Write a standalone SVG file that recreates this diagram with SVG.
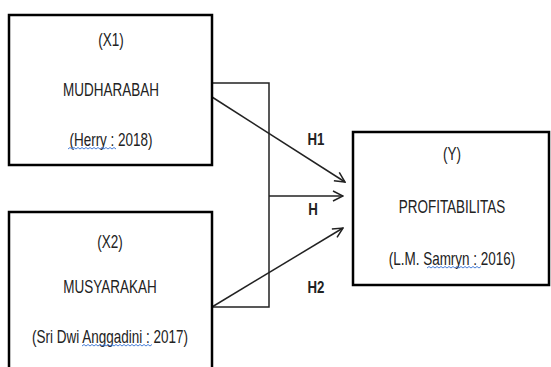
<svg xmlns="http://www.w3.org/2000/svg" width="551" height="367" viewBox="0 0 551 367">
<style>
.box{fill:#fff;stroke:#000;stroke-width:2.5}
.ln{fill:none;stroke:#222;stroke-width:1.5}
.t{font-family:"Liberation Sans",Arial,sans-serif;font-size:18px;fill:#222;text-anchor:middle}
.lb{font-family:"Liberation Sans",Arial,sans-serif;font-size:17px;font-weight:bold;fill:#222;text-anchor:middle}
.sq{fill:none;stroke:#4a7fd8;stroke-width:1}
</style>
<defs>
<marker id="arr" markerWidth="12" markerHeight="12" refX="11" refY="6" orient="auto" markerUnits="userSpaceOnUse">
<path d="M1,1 L11,6 L1,11" fill="none" stroke="#222" stroke-width="1.5"/>
</marker>
</defs>
<g id="connectors">
<polyline class="ln" points="212,83 269,83 269,307 212,307"/>
<line class="ln" x1="212" y1="97" x2="345" y2="182" marker-end="url(#arr)"/>
<line class="ln" x1="269" y1="196" x2="343" y2="196" marker-end="url(#arr)"/>
<line class="ln" x1="212" y1="307" x2="343" y2="228" marker-end="url(#arr)"/>
<text class="lb" transform="translate(316,145) scale(0.78,1)">H1</text>
<text class="lb" transform="translate(313,215) scale(0.78,1)">H</text>
<text class="lb" transform="translate(316,293) scale(0.78,1)">H2</text>
</g>
<g id="x1">
<rect class="box" x="9" y="15" width="203" height="150"/>
<text class="t" transform="translate(111,46) scale(0.75,1)">(X1)</text>
<text class="t" transform="translate(111,96) scale(0.75,1)">MUDHARABAH</text>
<text class="t" transform="translate(111,146) scale(0.75,1)">(Herry : 2018)</text>
<path class="sq" d="M68,149 l2,-1.5 l2,1.5 l2,-1.5 l2,1.5 l2,-1.5 l2,1.5 l2,-1.5 l2,1.5 l2,-1.5 l2,1.5 l2,-1.5 l2,1.5 l2,-1.5 l2,1.5 l2,-1.5 l2,1.5 l2,-1.5 l2,1.5 l2,-1.5 l2,1.5 l2,-1.5 l2,1.5 l2,-1.5 l2,1.5"/>
</g>
<g id="x2">
<rect class="box" x="9" y="212" width="203" height="170"/>
<text class="t" transform="translate(110,248) scale(0.75,1)">(X2)</text>
<text class="t" transform="translate(110,293) scale(0.75,1)">MUSYARAKAH</text>
<text class="t" transform="translate(110,343) scale(0.75,1)">(Sri Dwi Anggadini : 2017)</text>
<path class="sq" d="M82,346 l2,-1.5 l2,1.5 l2,-1.5 l2,1.5 l2,-1.5 l2,1.5 l2,-1.5 l2,1.5 l2,-1.5 l2,1.5 l2,-1.5 l2,1.5 l2,-1.5 l2,1.5 l2,-1.5 l2,1.5 l2,-1.5 l2,1.5 l2,-1.5 l2,1.5 l2,-1.5 l2,1.5 l2,-1.5 l2,1.5 l2,-1.5 l2,1.5 l2,-1.5 l2,1.5 l2,-1.5 l2,1.5 l2,-1.5 l2,1.5 l2,-1.5 l2,1.5 l2,-1.5"/>
</g>
<g id="y">
<rect class="box" x="353" y="132" width="196" height="153"/>
<text class="t" transform="translate(452,160) scale(0.75,1)">(Y)</text>
<text class="t" transform="translate(452,213) scale(0.75,1)">PROFITABILITAS</text>
<text class="t" transform="translate(452,265) scale(0.75,1)">(L.M. Samryn : 2016)</text>
<path class="sq" d="M427,268 l2,-1.5 l2,1.5 l2,-1.5 l2,1.5 l2,-1.5 l2,1.5 l2,-1.5 l2,1.5 l2,-1.5 l2,1.5 l2,-1.5 l2,1.5 l2,-1.5 l2,1.5 l2,-1.5 l2,1.5 l2,-1.5 l2,1.5 l2,-1.5 l2,1.5 l2,-1.5 l2,1.5 l2,-1.5 l2,1.5 l2,-1.5 l2,1.5 l2,-1.5"/>
</g>
</svg>
